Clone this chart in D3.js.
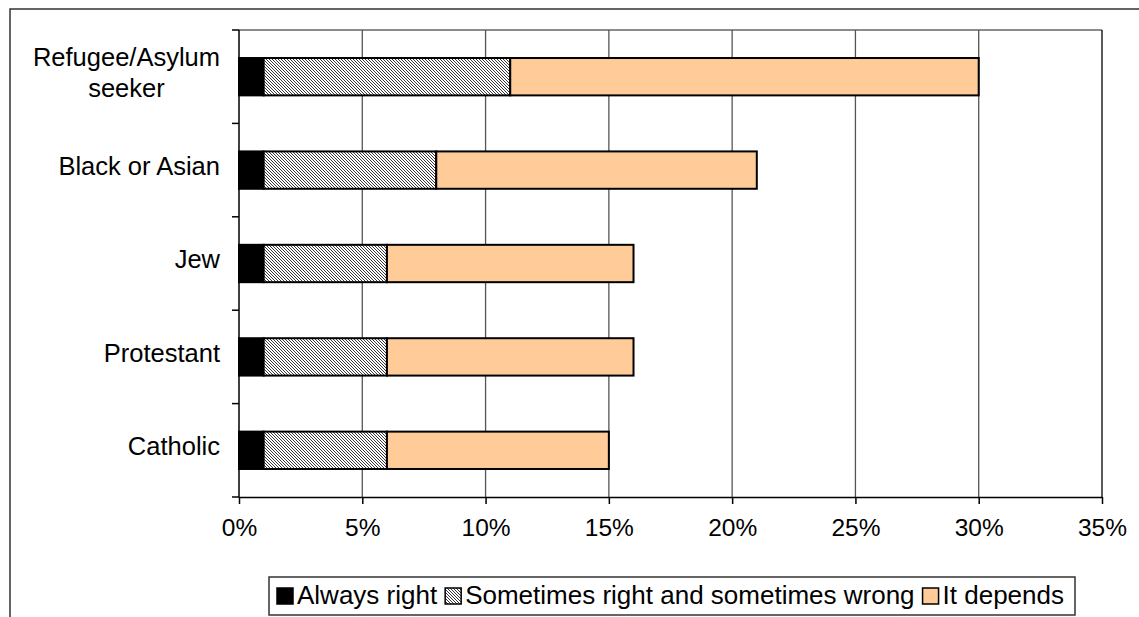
<!DOCTYPE html>
<html><head><meta charset="utf-8">
<script src="https://cdn.jsdelivr.net/npm/d3@7"></script>
<style>body{margin:0;background:#fff}svg{display:block;font-family:"Liberation Sans",Arial,sans-serif}</style>
</head><body><svg id="c" width="1139" height="617"></svg>
<script>
const categories = ["Refugee/Asylum seeker","Black or Asian","Jew","Protestant","Catholic"];
const categoryLines = [["Refugee/Asylum","seeker"],["Black or Asian"],["Jew"],["Protestant"],["Catholic"]];
const seriesNames = ["Always right","Sometimes right and sometimes wrong","It depends"];
const alwaysRight = [1,1,1,1,1];
const sometimes = [10,7,5,5,5];
const itDepends = [19,13,10,10,9];
const xTicks = [0,5,10,15,20,25,30,35];

const svg = d3.select("#c");
const defs = svg.append("defs");
const pat = defs.append("pattern").attr("id","hatch").attr("patternUnits","userSpaceOnUse").attr("width",3).attr("height",3);
pat.append("rect").attr("width",3).attr("height",3).attr("fill","#fff");
pat.append("path").attr("d","M-1,2 L1,4 M0,0 L3,3 M2,-1 L4,1").attr("stroke","#222").attr("stroke-width",0.9);
const fills = ["#000","url(#hatch)","#FFCC99"];

const L=239,R=1102,T=30,B=497;
const x = d3.scaleLinear().domain([0,35]).range([L,R]);
const y = d3.scaleBand().domain(categories).range([T,B]).paddingInner(0.6).paddingOuter(0.3);
const yb = d3.scaleBand().domain(categories).range([T,B]);

// outer frame
svg.append("path").attr("d","M10,617 L10,9 L1139,9").attr("fill","none").attr("stroke","#333").attr("stroke-width",1.5);

// plot border top
svg.append("line").attr("x1",L).attr("x2",R).attr("y1",T).attr("y2",T).attr("stroke","#666").attr("stroke-width",1.3);
// gridlines
svg.append("g").selectAll("line").data(xTicks.slice(1)).join("line")
  .attr("x1",d=>x(d)).attr("x2",d=>x(d)).attr("y1",T).attr("y2",B)
  .attr("stroke",(d)=>d===35?"#000":"#555").attr("stroke-width",1.3);

// bars
const stack = d3.stack().keys([0,1,2]).value((d,k)=>[alwaysRight,sometimes,itDepends][k][d]);
const series = stack(d3.range(categories.length));
svg.append("g").selectAll("g").data(series).join("g").attr("fill",(s,i)=>fills[i])
  .selectAll("rect").data(d=>d).join("rect")
  .attr("x",d=>x(d[0])).attr("width",d=>x(d[1])-x(d[0]))
  .attr("y",(d)=>y(categories[d.data])).attr("height",y.bandwidth())
  .attr("stroke","#000").attr("stroke-width",2);

// axes
const xAxis = d3.axisBottom(x).tickValues(xTicks).tickFormat(d=>d+"%").tickSize(7).tickSizeOuter(0);
const gx = svg.append("g").attr("transform",`translate(0,${B})`).call(xAxis);
gx.select(".domain").attr("stroke","#000").attr("stroke-width",1.5);
gx.selectAll(".tick line").attr("stroke","#000").attr("stroke-width",1.5);
gx.selectAll(".tick text").attr("font-size",24.5).attr("fill","#000").attr("font-family","Liberation Sans, Arial, sans-serif").attr("dy","0.35em").attr("y",30);

const gy = svg.append("g");
gy.append("line").attr("x1",L).attr("x2",L).attr("y1",T).attr("y2",B).attr("stroke","#000").attr("stroke-width",1.5);
const yTickPos = categories.map(c=>yb(c)).concat([B]);
gy.selectAll("line.t").data(yTickPos).join("line").attr("class","t")
  .attr("x1",L-7).attr("x2",L).attr("y1",d=>d).attr("y2",d=>d).attr("stroke","#000").attr("stroke-width",1.5);

// category labels
categories.forEach((c,i)=>{
  const lines = categoryLines[i];
  const cy = yb(c)+yb.bandwidth()/2 - 4;
  const g = svg.append("g");
  const lh = 31;
  const ts = lines.map((t,j)=>g.append("text").text(t).attr("font-size",25.5).attr("fill","#000")
      .attr("y",cy+(j-(lines.length-1)/2)*lh).attr("dy","0.35em"));
  const w = d3.max(ts,t=>t.node().getComputedTextLength());
  ts.forEach(t=>t.attr("text-anchor","middle").attr("x",220-w/2));
});

// legend
const lg = svg.append("g");
const box = lg.append("rect").attr("x",269).attr("y",577).attr("height",38).attr("fill","#fff").attr("stroke","#333").attr("stroke-width",1.5);
let cx = 277;
seriesNames.forEach((n,i)=>{
  lg.append("rect").attr("x",cx).attr("y",588).attr("width",16).attr("height",16).attr("fill",fills[i]).attr("stroke","#000").attr("stroke-width",1.5);
  const t = lg.append("text").attr("x",cx+20).attr("y",595).attr("dy","0.35em").attr("font-size",26).attr("fill","#000").text(n);
  cx += 20 + t.node().getComputedTextLength() + 8;
});
box.attr("width", cx + 3 - 269);
</script></body></html>
